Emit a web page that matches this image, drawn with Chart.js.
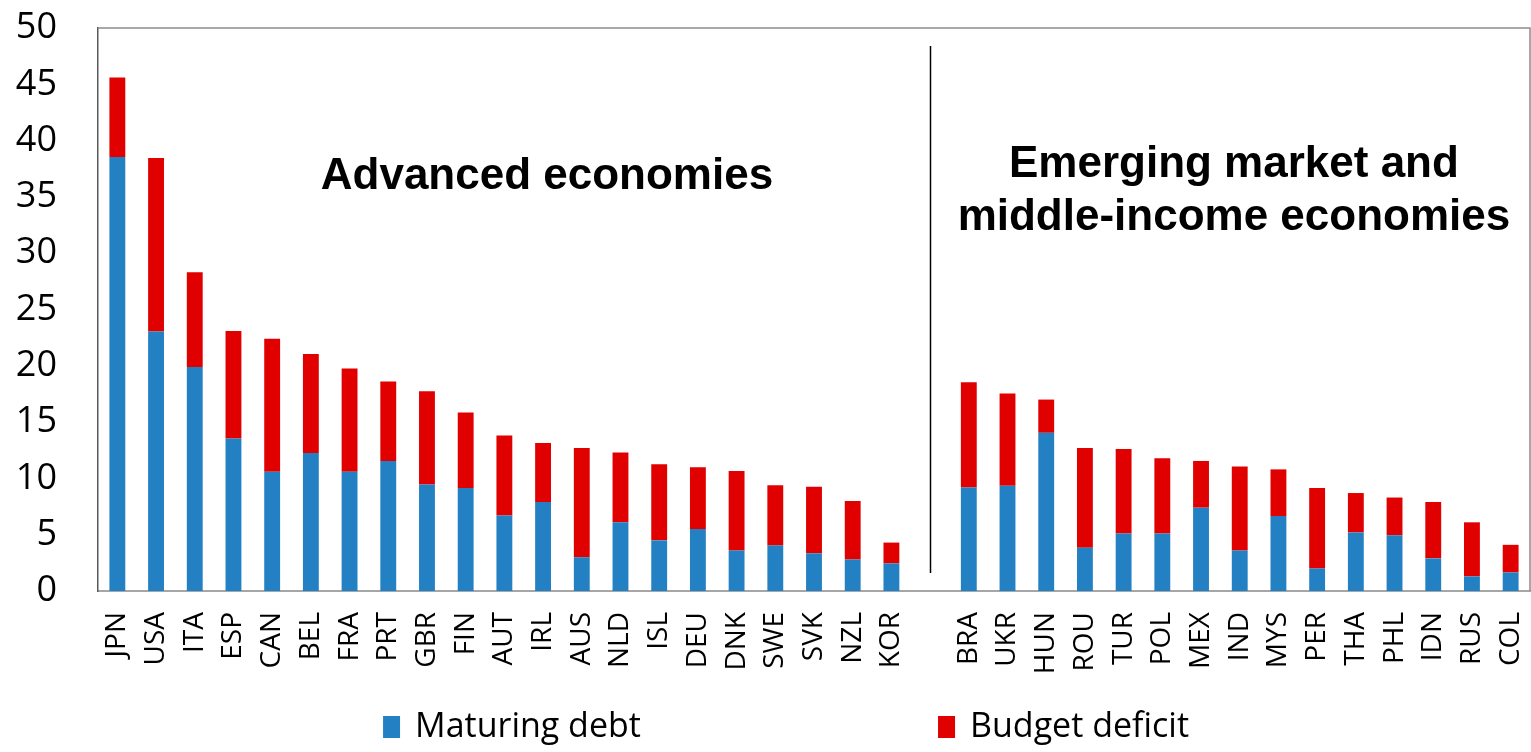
<!DOCTYPE html>
<html>
<head>
<meta charset="utf-8">
<script src="https://cdn.jsdelivr.net/npm/chart.js@4.4.1/dist/chart.umd.min.js"></script>
<style>
  html, body { margin: 0; padding: 0; background: #ffffff; }
  #wrap { width: 1531px; height: 752px; }
</style>
</head>
<body>
<div id="wrap"><canvas id="chart" width="1531" height="752"></canvas></div>
<script>
// Countries, with one empty slot separating the two groups
const advanced = ['JPN','USA','ITA','ESP','CAN','BEL','FRA','PRT','GBR','FIN','AUT','IRL','AUS','NLD','ISL','DEU','DNK','SWE','SVK','NZL','KOR'];
const emerging = ['BRA','UKR','HUN','ROU','TUR','POL','MEX','IND','MYS','PER','THA','PHL','IDN','RUS','COL'];
const countries = [...advanced, '', ...emerging];

// Gross financing needs, percent of GDP
const maturingDebt = [38.55, 23.05, 19.9, 13.55, 10.6, 12.25, 10.6, 11.55, 9.45, 9.15, 6.7, 7.9, 3.0, 6.1, 4.5, 5.5, 3.6, 4.05, 3.35, 2.8, 2.45,
  null,
  9.2, 9.35, 14.05, 3.85, 5.1, 5.1, 7.4, 3.6, 6.65, 2.0, 5.2, 4.95, 2.9, 1.3, 1.65];
const budgetDeficit = [7.05, 15.4, 8.4, 9.55, 11.8, 8.8, 9.15, 7.05, 8.3, 6.7, 7.1, 5.25, 9.7, 6.2, 6.75, 5.5, 7.05, 5.35, 5.9, 5.2, 1.85,
  null,
  9.35, 8.2, 2.95, 8.85, 7.5, 6.7, 4.15, 7.45, 4.15, 7.15, 3.5, 3.35, 5.0, 4.8, 2.45];

const yMin = 0, yMax = 50, yStep = 5;

const groupTitles = [
  { lines: ['Advanced economies'], at: 11.1, baselines: [35.7] },
  { lines: ['Emerging market and', 'middle-income economies'], at: 28.85, baselines: [36.8, 32.05] }
];
const dividerIndex = advanced.length;
const dividerSpan = [1.6, 48.4];

const BLUE = '#2381c3';
const RED = '#e00000';

// Frame on top and right of the plot, group divider and group titles
const decorations = {
  id: 'decorations',
  afterDatasetsDraw(chart) {
    const { ctx, chartArea: a, scales: { x, y } } = chart;
    ctx.save();
    ctx.strokeStyle = '#8c8c8c';
    ctx.lineWidth = 1.5;
    ctx.beginPath();
    ctx.moveTo(a.left, a.top);
    ctx.lineTo(a.right, a.top);
    ctx.lineTo(a.right, a.bottom);
    ctx.stroke();

    const dx = Math.round(x.getPixelForValue(dividerIndex)) + 0.5;
    ctx.strokeStyle = '#000000';
    ctx.lineWidth = 1.5;
    ctx.beginPath();
    ctx.moveTo(dx, y.getPixelForValue(dividerSpan[1]));
    ctx.lineTo(dx, y.getPixelForValue(dividerSpan[0]));
    ctx.stroke();

    ctx.fillStyle = '#000000';
    ctx.font = 'bold 44px "Liberation Sans", Arial, sans-serif';
    ctx.textAlign = 'center';
    ctx.textBaseline = 'alphabetic';
    groupTitles.forEach(g => {
      const cx = x.getPixelForValue(g.at);
      g.lines.forEach((t, i) => ctx.fillText(t, cx, y.getPixelForValue(g.baselines[i])));
    });
    ctx.restore();
  }
};

// Legend spread across the bottom
const legendSlots = [0.2502, 0.6127];
const spreadLegend = {
  id: 'spreadLegend',
  afterDraw(chart) {
    const { ctx } = chart;
    const cy = chart.height - 25;
    ctx.save();
    ctx.font = '34px "Open Sans", sans-serif';
    ctx.textAlign = 'left';
    ctx.textBaseline = 'middle';
    chart.data.datasets.forEach((ds, i) => {
      const bx = chart.width * legendSlots[i];
      ctx.fillStyle = ds.backgroundColor;
      ctx.fillRect(bx, cy - 11, 17, 22);
      ctx.fillStyle = '#000000';
      ctx.fillText(ds.label, bx + 32, cy);
    });
    ctx.restore();
  }
};

new Chart(document.getElementById('chart'), {
  type: 'bar',
  data: {
    labels: countries,
    datasets: [
      { label: 'Maturing debt', data: maturingDebt, backgroundColor: BLUE, barPercentage: 0.41, categoryPercentage: 1 },
      { label: 'Budget deficit', data: budgetDeficit, backgroundColor: RED, barPercentage: 0.41, categoryPercentage: 1 }
    ]
  },
  options: {
    responsive: false,
    animation: false,
    devicePixelRatio: 1,
    layout: { padding: { top: 28, right: 1, bottom: 70, left: 0 } },
    plugins: { legend: { display: false }, tooltip: { enabled: false } },
    scales: {
      x: {
        stacked: true,
        grid: { display: false, drawTicks: false },
        border: { color: '#a6a6a6', width: 2 },
        ticks: {
          autoSkip: false, minRotation: 90, maxRotation: 90, padding: 21,
          color: '#000000', font: { family: '"Open Sans", sans-serif', size: 28 }
        },
        afterFit(s) { s.height = 91; s.paddingLeft = 0; s.paddingRight = 0; }
      },
      y: {
        stacked: true,
        min: yMin, max: yMax,
        grid: { display: false, drawTicks: false },
        border: { color: '#595959', width: 1.5 },
        ticks: {
          stepSize: yStep, padding: 41,
          color: '#000000', font: { family: '"Open Sans", sans-serif', size: 36 }
        },
        afterFit(s) { s.width = 98; s.paddingTop = 0; s.paddingBottom = 0; }
      }
    }
  },
  plugins: [decorations, spreadLegend]
});
</script>
</body>
</html>
